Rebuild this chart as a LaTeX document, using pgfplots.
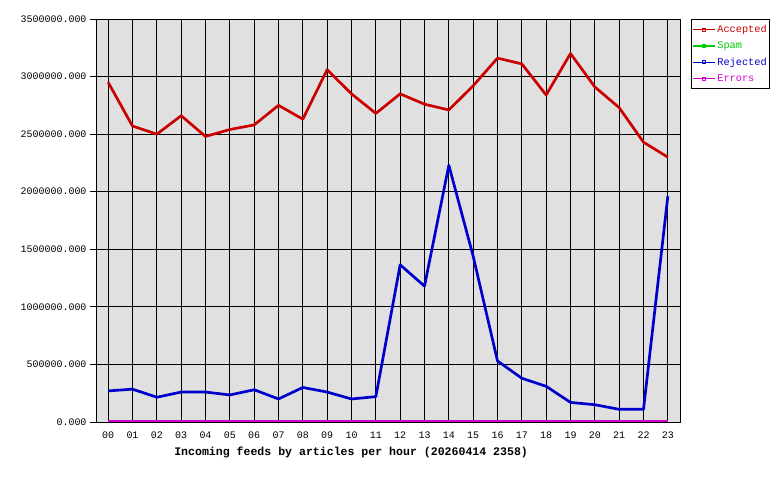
\documentclass[border=0pt]{standalone}
\usepackage{pgfplots}
\pgfplotsset{compat=1.18}
\usepackage{fontspec}
\setmainfont{Liberation Mono}
\definecolor{accred}{HTML}{CC0000}
\definecolor{spamgreen}{HTML}{00CC00}
\definecolor{rejblue}{HTML}{0000CC}
\definecolor{errmag}{HTML}{CC00CC}
\definecolor{plotbg}{HTML}{E0E0E0}
\begin{document}
\begin{tikzpicture}
\path[use as bounding box] (0,0) rectangle (780bp,480bp);
\begin{axis}[
  at={(96bp,58bp)}, anchor=south west,
  scale only axis, width=584bp, height=403bp,
  axis background/.style={fill=plotbg},
  xmin=-0.5, xmax=23.5, ymin=0, ymax=3500000,
  xtick={0,...,23},
  xticklabels={00,01,02,03,04,05,06,07,08,09,10,11,12,13,14,15,16,17,18,19,20,21,22,23},
  ytick={0,500000,1000000,1500000,2000000,2500000,3000000,3500000},
  yticklabels={0.000,500000.000,1000000.000,1500000.000,2000000.000,2500000.000,3000000.000,3500000.000},
  scaled y ticks=false,
  grid=major,
  major grid style={black, line width=0.8pt},
  axis line style={black, line width=0.8pt},
  xtick style={draw=none},
  ytick style={black, line width=0.8pt},
  ytick pos=left,
  tick align=outside,
  major tick length=6bp,
  tick label style={font=\fontsize{10}{12}\selectfont},
  xlabel={\textbf{Incoming feeds by articles per hour (20260414 2358)}},
  xlabel style={at={(axis description cs:0.128,-0.0744)}, anchor=west, font=\fontsize{11.6}{14}\selectfont},
  legend style={at={(1.019,1)}, anchor=north west, draw=black, fill=white,
    font=\fontsize{10.3}{12}\selectfont, row sep=3.7pt, inner xsep=1pt, inner ysep=4pt},
  legend cell align=left,
  legend image code/.code={
    \draw[#1, line width=1.3pt] (-0.05cm,0cm) -- (0.72cm,0cm);
    \draw[#1, line width=0.8pt, fill=none] (0.30cm,-0.05cm) rectangle (0.38cm,0.05cm);
  },
  every axis plot/.append style={line width=2.7pt, line join=round, no markers},
]
\addplot[accred] coordinates {
(0,2950000) (1,2570000) (2,2500000) (3,2660000) (4,2480000) (5,2540000)
(6,2580000) (7,2750000) (8,2630000) (9,3060000) (10,2850000) (11,2680000)
(12,2850000) (13,2760000) (14,2710000) (15,2920000) (16,3160000) (17,3110000)
(18,2840000) (19,3200000) (20,2910000) (21,2730000) (22,2430000) (23,2300000)};
\addlegendentry{\textcolor{accred}{Accepted}}
\addplot[spamgreen] coordinates {
(0,0) (1,0) (2,0) (3,0) (4,0) (5,0) (6,0) (7,0) (8,0) (9,0) (10,0) (11,0)
(12,0) (13,0) (14,0) (15,0) (16,0) (17,0) (18,0) (19,0) (20,0) (21,0) (22,0) (23,0)};
\addlegendentry{\textcolor{spamgreen}{Spam}}
\addplot[rejblue] coordinates {
(0,270000) (1,285000) (2,215000) (3,260000) (4,260000) (5,235000)
(6,280000) (7,200000) (8,300000) (9,260000) (10,200000) (11,220000)
(12,1365000) (13,1180000) (14,2230000) (15,1440000) (16,530000) (17,380000)
(18,310000) (19,170000) (20,150000) (21,110000) (22,110000) (23,1960000)};
\addlegendentry{\textcolor{rejblue}{Rejected}}
\addplot[errmag] coordinates {
(0,4000) (1,4000) (2,4000) (3,4000) (4,4000) (5,4000) (6,4000) (7,4000) (8,4000) (9,4000) (10,4000) (11,4000)
(12,4000) (13,4000) (14,4000) (15,4000) (16,4000) (17,4000) (18,4000) (19,4000) (20,4000) (21,4000) (22,4000) (23,4000)};
\addlegendentry{\textcolor{errmag}{Errors}}
\end{axis}
\end{tikzpicture}
\end{document}
